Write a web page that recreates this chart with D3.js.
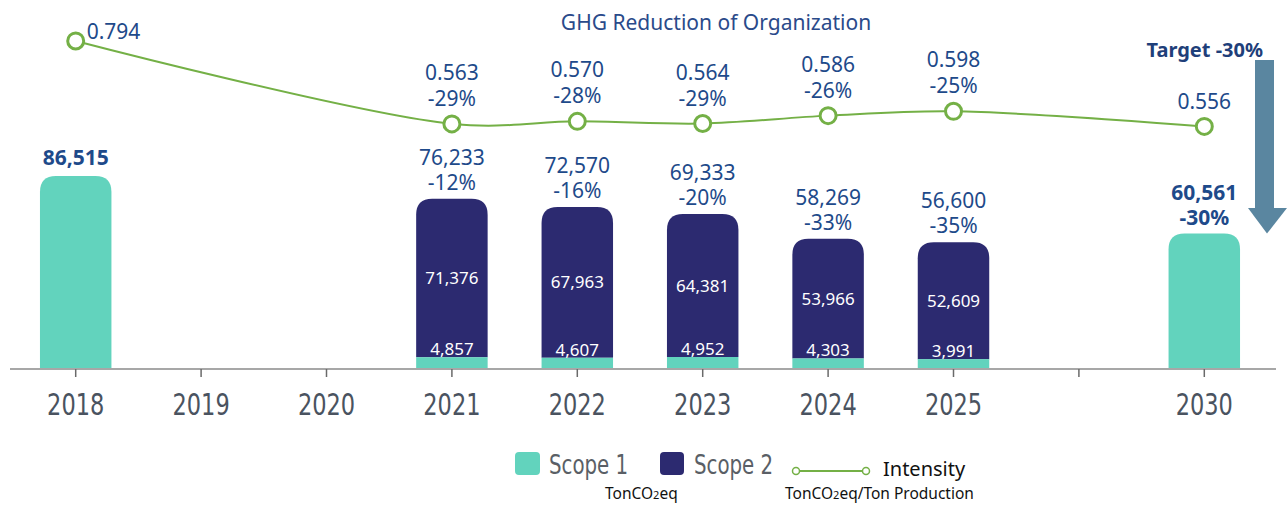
<!DOCTYPE html>
<html lang="en">
<head>
    <meta charset="UTF-8">
    <title>GHG Reduction of Organization</title>
    <script src="https://d3js.org/d3.v7.min.js"></script>
    <style>
        body { margin: 0; background: #fff; }
        svg text { font-family: "Noto Sans", sans-serif; }
    </style>
</head>
<body>
<div id="chart"></div>
<script>
const width = 1287;
const height = 506;

// data
const years = ["2018", "2019", "2020", "2021", "2022", "2023", "2024", "2025", "gap", "2030"];
const scope1 = { "2021": 4857, "2022": 4607, "2023": 4952, "2024": 4303, "2025": 3991 };
const scope2 = { "2021": 71376, "2022": 67963, "2023": 64381, "2024": 53966, "2025": 52609 };
const totals = { "2018": 86515, "2021": 76233, "2022": 72570, "2023": 69333, "2024": 58269, "2025": 56600, "2030": 60561 };
const totalPct = { "2021": "-12%", "2022": "-16%", "2023": "-20%", "2024": "-33%", "2025": "-35%", "2030": "-30%" };
const intensityYears = ["2018", "2021", "2022", "2023", "2024", "2025", "2030"];
const intensity = [0.794, 0.563, 0.570, 0.564, 0.586, 0.598, 0.556];
const intensityPct = ["", "-29%", "-28%", "-29%", "-26%", "-25%", ""];

const teal = "#62d3bd";
const navy = "#2c2a70";
const blue = "#1e4a8a";
const green = "#74b046";
const narrow = "'Liberation Sans Narrow', 'DejaVu Sans Condensed', sans-serif";

const svg = d3.select("#chart").append("svg")
    .attr("width", width)
    .attr("height", height);

const x = d3.scaleBand()
    .domain(years)
    .range([13, 1267])
    .paddingInner(0.43)
    .paddingOuter(0.215);

const y = d3.scaleLinear().domain([0, 100000]).range([368, 146]);
const yI = d3.scaleLinear().domain([0.5, 0.8]).range([146.5, 38.8]);

// rounded-top bar path
function barPath(x0, w, yTop, yBot, r) {
    r = Math.min(r, (yBot - yTop));
    return `M${x0},${yBot}V${yTop + r}Q${x0},${yTop} ${x0 + r},${yTop}H${x0 + w - r}Q${x0 + w},${yTop} ${x0 + w},${yTop + r}V${yBot}Z`;
}

// title
svg.append("text")
    .attr("x", 716).attr("y", 30)
    .attr("text-anchor", "middle")
    .attr("fill", "#2a4a8a")
    .style("font-size", "21px")
    .text("GHG Reduction of Organization");

// axis
const axisG = svg.append("g").attr("transform", `translate(0,369)`);
axisG.append("line")
    .attr("x1", 10).attr("x2", 1276)
    .attr("stroke", "#8a8a8a").attr("stroke-width", 1.5);
axisG.selectAll(".tick")
    .data(years)
    .join("line")
    .attr("x1", d => x(d) + x.bandwidth() / 2)
    .attr("x2", d => x(d) + x.bandwidth() / 2)
    .attr("y1", 0).attr("y2", 8)
    .attr("stroke", "#6a6a6a").attr("stroke-width", 1.5);
axisG.selectAll(".lbl")
    .data(years.filter(d => d !== "gap"))
    .join("text")
    .attr("transform", d => `translate(${x(d) + x.bandwidth() / 2},46) scale(1,1.2)`)
    .attr("text-anchor", "middle")
    .attr("fill", "#4a5360")
    .style("font-family", narrow)
    .style("font-size", "25px")
    .text(d => d);

const bw = x.bandwidth();

// full teal bars (2018, 2030)
["2018", "2030"].forEach(yr => {
    svg.append("path")
        .attr("d", barPath(x(yr), bw, y(totals[yr]), y(0), 16))
        .attr("fill", teal);
});

// stacked bars
Object.keys(scope2).forEach(yr => {
    const s1 = scope1[yr], s2 = scope2[yr];
    svg.append("path")
        .attr("d", barPath(x(yr), bw, y(s1 + s2), y(s1), 16))
        .attr("fill", navy);
    svg.append("rect")
        .attr("x", x(yr)).attr("width", bw)
        .attr("y", y(s1)).attr("height", y(0) - y(s1))
        .attr("fill", teal);
    svg.append("text")
        .attr("x", x(yr) + bw / 2)
        .attr("y", (y(s1 + s2) + y(s1)) / 2 + 6)
        .attr("text-anchor", "middle")
        .attr("fill", "#fff")
        .style("font-size", "17px")
        .text(d3.format(",")(s2));
    svg.append("text")
        .attr("x", x(yr) + bw / 2)
        .attr("y", y(s1) - 2)
        .attr("text-anchor", "middle")
        .attr("fill", "#fff")
        .style("font-size", "17px")
        .text(d3.format(",")(s1));
});

// total labels
Object.keys(totals).forEach(yr => {
    const cx = x(yr) + bw / 2;
    const top = y(totals[yr]);
    const bold = yr === "2018" || yr === "2030";
    if (totalPct[yr]) {
        svg.append("text")
            .attr("x", cx).attr("y", top - 34)
            .attr("text-anchor", "middle").attr("fill", blue)
            .style("font-size", "21px").style("font-weight", bold ? "bold" : "normal")
            .text(d3.format(",")(totals[yr]));
        svg.append("text")
            .attr("x", cx).attr("y", top - 9)
            .attr("text-anchor", "middle").attr("fill", blue)
            .style("font-size", "21px").style("font-weight", bold ? "bold" : "normal")
            .text(totalPct[yr]);
    } else {
        svg.append("text")
            .attr("x", cx).attr("y", top - 11)
            .attr("text-anchor", "middle").attr("fill", blue)
            .style("font-size", "21px").style("font-weight", "bold")
            .text(d3.format(",")(totals[yr]));
    }
});

// intensity line
const pts = intensityYears.map((yr, i) => ({
    yr, v: intensity[i], pct: intensityPct[i],
    cx: x(yr) + bw / 2, cy: yI(intensity[i])
}));

svg.append("path")
    .datum(pts)
    .attr("fill", "none")
    .attr("stroke", green)
    .attr("stroke-width", 2)
    .attr("d", d3.line().x(d => d.cx).y(d => d.cy).curve(d3.curveCatmullRom.alpha(0.5)));

svg.selectAll(".mk")
    .data(pts)
    .join("circle")
    .attr("cx", d => d.cx).attr("cy", d => d.cy)
    .attr("r", 8)
    .attr("fill", "#fff")
    .attr("stroke", green)
    .attr("stroke-width", 3);

pts.forEach(d => {
    if (d.yr === "2018") {
        svg.append("text")
            .attr("x", d.cx + 11).attr("y", d.cy - 2)
            .attr("fill", blue).style("font-size", "21px")
            .text(d3.format(".3f")(d.v));
    } else if (d.pct) {
        svg.append("text")
            .attr("x", d.cx).attr("y", d.cy - 44)
            .attr("text-anchor", "middle")
            .attr("fill", blue).style("font-size", "21px")
            .text(d3.format(".3f")(d.v));
        svg.append("text")
            .attr("x", d.cx).attr("y", d.cy - 18)
            .attr("text-anchor", "middle")
            .attr("fill", blue).style("font-size", "21px")
            .text(d.pct);
    } else {
        svg.append("text")
            .attr("x", d.cx).attr("y", d.cy - 17)
            .attr("text-anchor", "middle")
            .attr("fill", blue).style("font-size", "21px")
            .text(d3.format(".3f")(d.v));
    }
});

// target arrow
const ax = x.range()[1];
const tipY = y(totals["2030"]);
svg.append("rect")
    .attr("x", ax - 12).attr("y", 60)
    .attr("width", 19).attr("height", 208 - 60)
    .attr("fill", "#5a86a0");
svg.append("path")
    .attr("d", `M${ax - 19},208L${ax + 20},208L${ax},${tipY}Z`)
    .attr("fill", "#5a86a0");
svg.append("text")
    .attr("x", ax - 4).attr("y", 57)
    .attr("text-anchor", "end")
    .attr("fill", "#1f3f7a")
    .style("font-size", "20px").style("font-weight", "bold")
    .text("Target -30%");

// legend
const lg = svg.append("g");
lg.append("rect").attr("x", 515).attr("y", 452).attr("width", 25).attr("height", 23).attr("rx", 4).attr("fill", teal);
lg.append("text").attr("transform", "translate(549,474) scale(1,1.2)").attr("fill", "#5a5f66")
    .style("font-family", narrow)
    .style("font-size", "22px").text("Scope 1");
lg.append("rect").attr("x", 660).attr("y", 452).attr("width", 24).attr("height", 23).attr("rx", 4).attr("fill", navy);
lg.append("text").attr("transform", "translate(694,474) scale(1,1.2)").attr("fill", "#5a5f66")
    .style("font-family", narrow)
    .style("font-size", "22px").text("Scope 2");
lg.append("line").attr("x1", 796).attr("x2", 866).attr("y1", 471).attr("y2", 471)
    .attr("stroke", green).attr("stroke-width", 2);
[796, 866].forEach(cx => {
    lg.append("circle").attr("cx", cx).attr("cy", 471).attr("r", 3.5)
        .attr("fill", "#fff").attr("stroke", green).attr("stroke-width", 1.5);
});
lg.append("text").attr("x", 883).attr("y", 476).attr("fill", "#111")
    .style("font-size", "20px").text("Intensity");

const u1 = lg.append("text").attr("x", 605).attr("y", 499).attr("fill", "#111").style("font-size", "15.5px");
u1.append("tspan").text("TonCO");
u1.append("tspan").style("font-size", "11px").text("2");
u1.append("tspan").text("eq");
const u2 = lg.append("text").attr("x", 785).attr("y", 499).attr("fill", "#111").style("font-size", "15.5px");
u2.append("tspan").text("TonCO");
u2.append("tspan").style("font-size", "11px").text("2");
u2.append("tspan").text("eq/Ton Production");
</script>
</body>
</html>
